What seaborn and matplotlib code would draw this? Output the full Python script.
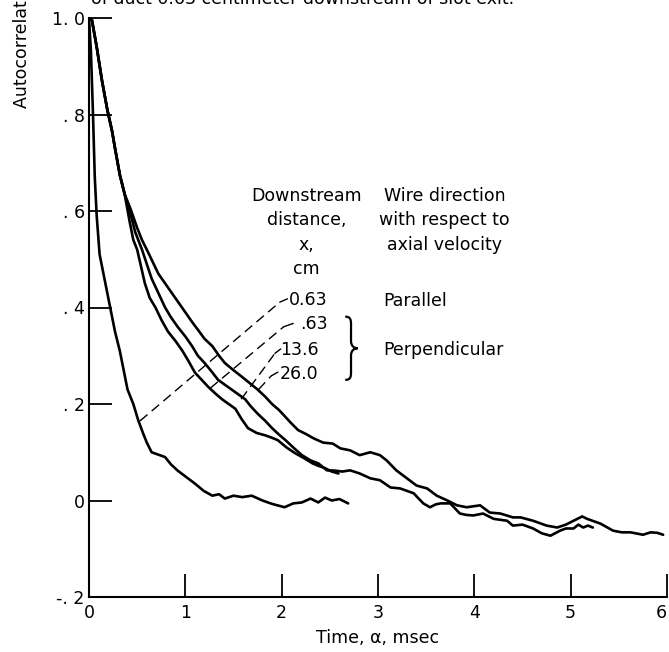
import numpy as np
import pandas as pd
import matplotlib
matplotlib.use("Agg")
import matplotlib.pyplot as plt
import seaborn as sns
from matplotlib.path import Path
from matplotlib.patches import PathPatch

# ---------------- data ----------------
t_par063 = [0, 0.02, 0.04, 0.06, 0.08, 0.11, 0.16, 0.22, 0.27, 0.32, 0.40, 0.46, 0.51,
            0.56, 0.60, 0.65, 0.72, 0.79, 0.85, 0.92, 1.00, 1.10, 1.19, 1.28, 1.35, 1.41,
            1.50, 1.59, 1.69, 1.80, 1.90, 2.03, 2.12, 2.21, 2.30, 2.38, 2.45, 2.52, 2.60, 2.69]
r_par063 = [1.0, 0.93, 0.81, 0.67, 0.59, 0.51, 0.46, 0.40, 0.35, 0.31, 0.23, 0.20, 0.167,
            0.14, 0.12, 0.10, 0.095, 0.09, 0.075, 0.062, 0.05, 0.035, 0.02, 0.01, 0.013, 0.004,
            0.01, 0.007, 0.01, 0.0, -0.007, -0.014, -0.006, -0.004, 0.004, -0.004, 0.006, 0.0,
            0.003, -0.006]

t_perp063 = [0, 0.03, 0.08, 0.135, 0.19, 0.24, 0.27, 0.32, 0.37, 0.42, 0.46, 0.50, 0.54,
             0.58, 0.63, 0.69, 0.75, 0.82, 0.90, 0.97, 1.03, 1.10, 1.17, 1.24, 1.31, 1.38,
             1.45, 1.52, 1.58, 1.65, 1.74, 1.83, 1.90, 1.96, 2.05, 2.14, 2.23, 2.32, 2.38,
             2.45, 2.52, 2.59]
r_perp063 = [1.0, 0.996, 0.94, 0.87, 0.81, 0.765, 0.73, 0.675, 0.635, 0.58, 0.54, 0.52, 0.485,
             0.45, 0.42, 0.40, 0.375, 0.35, 0.33, 0.31, 0.29, 0.265, 0.25, 0.235, 0.222, 0.21,
             0.20, 0.19, 0.17, 0.15, 0.14, 0.135, 0.13, 0.125, 0.11, 0.098, 0.088, 0.077, 0.072,
             0.067, 0.06, 0.056]

t_perp136 = [0, 0.03, 0.08, 0.135, 0.19, 0.24, 0.27, 0.32, 0.37, 0.43, 0.48, 0.55, 0.60,
             0.65, 0.72, 0.79, 0.85, 0.92, 1.00, 1.07, 1.13, 1.20, 1.27, 1.34, 1.41, 1.48,
             1.55, 1.62, 1.68, 1.75, 1.83, 1.90, 1.97, 2.04, 2.12, 2.21, 2.30, 2.38, 2.47,
             2.55, 2.63, 2.71, 2.81, 2.92, 3.02, 3.13, 3.23, 3.30, 3.37, 3.47, 3.54, 3.60,
             3.65, 3.75, 3.85, 3.92, 3.99, 4.09, 4.20, 4.34, 4.40, 4.50, 4.61, 4.70, 4.79,
             4.89, 4.95, 5.03, 5.08, 5.13, 5.18, 5.23]
r_perp136 = [1.0, 0.996, 0.94, 0.87, 0.81, 0.765, 0.73, 0.675, 0.635, 0.595, 0.556, 0.52, 0.49,
             0.46, 0.43, 0.40, 0.38, 0.36, 0.34, 0.32, 0.30, 0.285, 0.268, 0.25, 0.24, 0.23,
             0.22, 0.21, 0.195, 0.18, 0.165, 0.15, 0.137, 0.125, 0.11, 0.094, 0.083, 0.077,
             0.0625, 0.062, 0.060, 0.0625, 0.056, 0.046, 0.042, 0.027, 0.025, 0.02, 0.015,
             -0.006, -0.014, -0.008, -0.006, -0.006, -0.027, -0.03, -0.031, -0.027, -0.038,
             -0.042, -0.052, -0.05, -0.058, -0.068, -0.073, -0.0625, -0.058, -0.058, -0.05,
             -0.056, -0.052, -0.056]

t_perp260 = [0, 0.03, 0.08, 0.135, 0.19, 0.24, 0.27, 0.32, 0.37, 0.43, 0.50, 0.55, 0.60,
             0.66, 0.72, 0.79, 0.86, 0.93, 1.00, 1.07, 1.13, 1.20, 1.28, 1.35, 1.41, 1.50,
             1.59, 1.67, 1.75, 1.83, 1.90, 1.97, 2.04, 2.10, 2.17, 2.25, 2.33, 2.43, 2.53,
             2.61, 2.71, 2.81, 2.92, 3.02, 3.09, 3.19, 3.30, 3.40, 3.51, 3.61, 3.72, 3.82,
             3.92, 4.06, 4.16, 4.27, 4.40, 4.48, 4.61, 4.75, 4.86, 4.95, 5.05, 5.12, 5.17,
             5.31, 5.44, 5.53, 5.62, 5.70, 5.75, 5.83, 5.90, 5.96]
r_perp260 = [1.0, 0.996, 0.94, 0.87, 0.81, 0.765, 0.73, 0.675, 0.635, 0.605, 0.565, 0.54, 0.52,
             0.495, 0.47, 0.45, 0.43, 0.41, 0.39, 0.37, 0.354, 0.335, 0.32, 0.30, 0.285, 0.27,
             0.256, 0.243, 0.23, 0.215, 0.20, 0.188, 0.173, 0.16, 0.146, 0.138, 0.129, 0.12,
             0.118, 0.108, 0.104, 0.094, 0.10, 0.094, 0.083, 0.0625, 0.046, 0.031, 0.025,
             0.01, 0.0, -0.01, -0.014, -0.01, -0.025, -0.027, -0.035, -0.035, -0.042, -0.052,
             -0.056, -0.05, -0.04, -0.033, -0.038, -0.048, -0.0625, -0.066, -0.066, -0.069,
             -0.071, -0.066, -0.067, -0.071]

curve_names = ["Parallel 0.63", "Perpendicular 0.63", "Perpendicular 13.6", "Perpendicular 26.0"]
dist_labels = ["0.63", ".63", "13.6", "26.0"]

x_ticks = [0, 1, 2, 3, 4, 5, 6]
y_ticks = [-0.2, 0, 0.2, 0.4, 0.6, 0.8, 1.0]
y_tick_labels = ["-. 2", "0", ". 2", ". 4", ". 6", ". 8", "1. 0"]

# ---------------- style ----------------
sns.set_theme(style="ticks")
plt.rcParams["font.family"] = ["DejaVu Sans"]
plt.rcParams["text.color"] = "black"
plt.rcParams["axes.labelcolor"] = "black"
plt.rcParams["xtick.color"] = "black"
plt.rcParams["ytick.color"] = "black"

df = pd.concat([
    pd.DataFrame({"t": t, "r": r, "curve": n})
    for t, r, n in zip([t_par063, t_perp063, t_perp136, t_perp260],
                       [r_par063, r_perp063, r_perp136, r_perp260], curve_names)
])

fig = plt.figure(figsize=(6.69, 6.52), dpi=100)
ax = fig.add_axes([89 / 669, 1 - 597 / 652, (667 - 89) / 669, (597 - 18) / 652])

sns.lineplot(data=df, x="t", y="r", hue="curve", units="curve", estimator=None,
             sort=False, palette=["black"] * 4, linewidth=1.9, legend=False, ax=ax)

ax.set_xlim(0, 6)
ax.set_ylim(-0.2, 1.0)
ax.set_xticks(x_ticks)
ax.set_xticklabels([str(v) for v in x_ticks])
ax.set_yticks(y_ticks)
ax.set_yticklabels(y_tick_labels)
for s in ["top", "right"]:
    ax.spines[s].set_visible(False)
for s in ["left", "bottom"]:
    ax.spines[s].set_linewidth(1.5)
    ax.spines[s].set_color("black")
ax.tick_params(axis="both", direction="in", length=16.5, width=1.3, color="black",
               labelsize=12.5, labelcolor="black")
ax.tick_params(axis="x", pad=5)
ax.tick_params(axis="y", pad=3)
ax.get_xticklabels()[-1].set_horizontalalignment("right")
ax.set_xlabel("Time, \u03b1, msec", fontsize=12.5, labelpad=5, color="black")
ax.set_ylabel("")
ax.patch.set_alpha(0)

fs = 12.5
# headers
for i, s in enumerate(["Downstream", "distance,", "x,", "cm"]):
    ax.text(2.26, 0.631 - i * 0.0505, s, ha="center", va="center", fontsize=fs)
for i, s in enumerate(["Wire direction", "with respect to", "axial velocity"]):
    ax.text(3.69, 0.631 - i * 0.0505, s, ha="center", va="center", fontsize=fs)

# distance labels
label_pos = [(2.48, 0.415), (2.48, 0.365), (2.38, 0.312), (2.38, 0.262)]
for (lx, ly), s in zip(label_pos, dist_labels):
    ax.text(lx, ly, s, ha="right", va="center", fontsize=fs)
ax.text(3.05, 0.4125, "Parallel", ha="left", va="center", fontsize=fs)
ax.text(3.05, 0.3125, "Perpendicular", ha="left", va="center", fontsize=fs)

# thin curly brace grouping the perpendicular entries
bx0, bxm, bx1 = 2.66, 2.72, 2.79
by_top, by_mid, by_bot = 0.381, 0.3155, 0.250
verts = [(bx0, by_top), (bxm - 0.01, by_top), (bxm, by_top - 0.005), (bxm, by_top - 0.015),
         (bxm, by_mid + 0.015),
         (bxm, by_mid + 0.005), (bxm + 0.03, by_mid), (bx1, by_mid),
         (bxm + 0.03, by_mid), (bxm, by_mid - 0.005), (bxm, by_mid - 0.015),
         (bxm, by_bot + 0.015),
         (bxm, by_bot + 0.005), (bxm - 0.01, by_bot), (bx0, by_bot)]
codes = [Path.MOVETO, Path.CURVE4, Path.CURVE4, Path.CURVE4,
         Path.LINETO,
         Path.CURVE4, Path.CURVE4, Path.CURVE4,
         Path.CURVE4, Path.CURVE4, Path.CURVE4,
         Path.LINETO,
         Path.CURVE4, Path.CURVE4, Path.CURVE4]
ax.add_patch(PathPatch(Path(verts, codes), fill=False, lw=1.6, edgecolor="black"))

# dashed leader lines with a short hook at the label end
leaders = [((0.53, 0.165), (1.98, 0.411), (2.06, 0.418)),
           ((1.26, 0.233), (2.02, 0.360), (2.12, 0.367)),
           ((1.58, 0.21), (1.93, 0.305), (1.99, 0.314)),
           ((1.76, 0.23), (1.89, 0.258), (1.96, 0.266))]
for p0, p1, p2 in leaders:
    ax.plot([p0[0], p1[0]], [p0[1], p1[1]], color="black", lw=1.0, ls=(0, (7, 4)))
    ax.plot([p1[0], p2[0]], [p1[1], p2[1]], color="black", lw=1.0)

# title and y-label, cut at the top edge as in the reference
fig.text(303 / 669, 1 - 4 / 652, "of duct 0.63 centimeter downstream of slot exit.",
         ha="center", va="baseline", fontsize=fs)
fig.text(22 / 669, 1 - 108 / 652, "Autocorrelation coefficient", rotation=90,
         ha="center", va="bottom", fontsize=fs)

fig.savefig("out.png", dpi=100)
